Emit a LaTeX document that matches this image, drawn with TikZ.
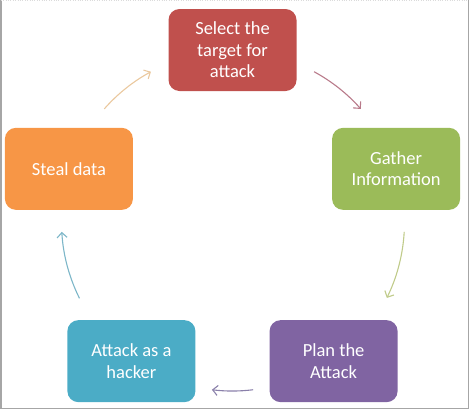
\documentclass[tikz,border=0pt]{standalone}
\usepackage{fontspec}
\setmainfont{Carlito}
\usepackage{tikz}
\usetikzlibrary{arrows.meta,calc}
\definecolor{brick}{HTML}{C0504D}
\definecolor{leaf}{HTML}{9BBB59}
\definecolor{plum}{HTML}{8064A2}
\definecolor{aqua}{HTML}{4BACC6}
\definecolor{amber}{HTML}{F79646}
\definecolor{frame}{HTML}{A6A6A6}

\begin{document}
\begin{tikzpicture}[x=1pt, y=-1pt, every node/.style={font=\fontsize{18.5}{21.5}\selectfont}, box/.style={rounded corners=11pt, minimum width=128pt, minimum height=82pt, align=center, text=white, inner sep=2pt}, arr/.style={-{Straight Barb[length=5pt, width=10pt]}, line width=1.1pt}]
\useasboundingbox (0,0) rectangle (470,410);
\draw[frame, line width=1.5pt] (0.75,0) -- (0.75,408.5) -- (468.5,408.5) -- (468.5,0);
\draw[frame!40, dotted] (0.75,0.5) -- (468.5,0.5);
\coordinate (ctr) at (232.5,222);
\node[box, fill=brick] (select) at ($(ctr)+(-90:172)$) {Select the\\target for\\attack};
\node[box, fill=leaf] (gather) at ($(ctr)+(-18:172)$) {Gather\\Information};
\node[box, fill=plum] (plan) at ($(ctr)+(54:172)$) {Plan the\\Attack};
\node[box, fill=aqua] (attack) at ($(ctr)+(126:172)$) {Attack as a\\hacker};
\node[box, fill=amber] (steal) at ($(ctr)+(198:172)$) {Steal data};
\draw[arr, color={rgb,255:red,234;green,200;blue,158}] (ctr) ++(-138.6:171) arc[start angle=-138.6, end angle=-118.5, radius=171];
\draw[arr, color={rgb,255:red,184;green,122;blue,138}] (ctr) ++(-61.5:171) arc[start angle=-61.5, end angle=-41.4, radius=171];
\draw[arr, color={rgb,255:red,192;green,203;blue,138}] (ctr) ++(3.3:172) arc[start angle=3.3, end angle=26.2, radius=172];
\draw[arr, color={rgb,255:red,138;green,128;blue,170}] (ctr) ++(83:169) arc[start angle=83, end angle=97, radius=169];
\draw[arr, color={rgb,255:red,124;green,182;blue,200}] (ctr) ++(153.5:171) arc[start angle=153.5, end angle=176.7, radius=171];
\end{tikzpicture}
\end{document}
